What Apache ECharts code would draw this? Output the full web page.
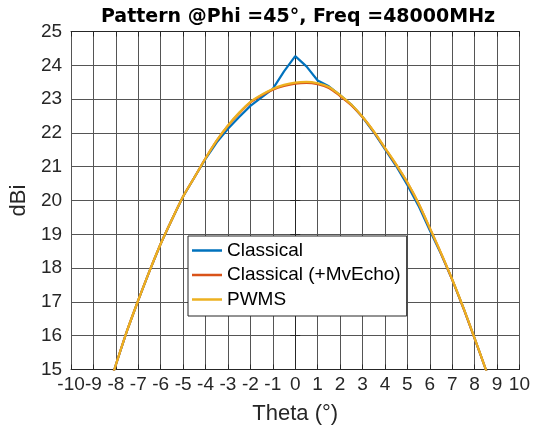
<!DOCTYPE html>
<html>
<head>
<meta charset="utf-8">
<script src="https://cdn.jsdelivr.net/npm/echarts@6/dist/echarts.min.js"></script>
<style>
  html, body { margin: 0; padding: 0; background: #fff; }
  #graph { width: 533px; height: 436px; }
</style>
</head>
<body>
<div id="graph"></div>
<script>
// 数据：theta 采样点 (°)
var theta = [-8.5, -8, -7.5, -7, -6.5, -6, -5.5, -5, -4.5, -4, -3.5, -3, -2.5, -2, -1.5, -1, -0.5, 0,
             0.5, 1, 1.5, 2, 2.5, 3, 3.5, 4, 4.5, 5, 5.5, 6, 6.5, 7, 7.5, 8, 8.5, 9];
// Classical (dBi)
var classical = [14.1, 15.14, 16.15, 17.05, 17.91, 18.72, 19.44, 20.12, 20.68, 21.23, 21.72, 22.12, 22.47, 22.8, 23.05, 23.3, 23.82, 24.27,
                 23.97, 23.55, 23.38, 23.12, 22.84, 22.47, 22.02, 21.52, 21.02, 20.46, 19.84, 19.12, 18.42, 17.66, 16.82, 15.92, 15.0, 14.0];
// Classical (+MvEcho)
var mvEcho = [14.1, 15.14, 16.15, 17.05, 17.91, 18.72, 19.44, 20.12, 20.68, 21.25, 21.77, 22.21, 22.58, 22.9, 23.11, 23.28, 23.39, 23.46,
              23.48, 23.44, 23.33, 23.09, 22.82, 22.47, 22.04, 21.55, 21.06, 20.53, 19.91, 19.18, 18.44, 17.66, 16.82, 15.92, 15.0, 14.0];
// PWMS
var pwms = [14.1, 15.14, 16.15, 17.05, 17.91, 18.72, 19.44, 20.12, 20.68, 21.25, 21.78, 22.22, 22.6, 22.92, 23.13, 23.3, 23.42, 23.49,
            23.51, 23.47, 23.36, 23.12, 22.84, 22.48, 22.05, 21.56, 21.07, 20.54, 19.92, 19.19, 18.45, 17.67, 16.83, 15.93, 15.0, 14.0];

var seriesNames = ['Classical', 'Classical (+MvEcho)', 'PWMS'];
var seriesColors = ['#0072BD', '#D95319', '#EDB120'];
var seriesValues = [classical, mvEcho, pwms];
var seriesSmooth = [false, 0.3, 0.3];

var myChart = echarts.init(document.getElementById('graph'));
var font = 'Liberation Sans, Arial, Helvetica, sans-serif';
var axisColor = '#262626';

function pairs(vals) {
    var out = [];
    for (var i = 0; i < theta.length; i++) {
        out.push([theta[i], vals[i]]);
    }
    return out;
}

var series = [];
for (var k = 0; k < seriesNames.length; k++) {
    series.push({
        name: seriesNames[k],
        type: 'line',
        xAxisIndex: 0,
        yAxisIndex: 0,
        data: pairs(seriesValues[k]),
        symbol: 'none',
        smooth: seriesSmooth[k],
        clip: true,
        lineStyle: { color: seriesColors[k], width: 2.2 },
        itemStyle: { color: seriesColors[k] },
        animation: false
    });
}

var option = {
    backgroundColor: '#fff',
    animation: false,
    title: {
        text: 'Pattern @Phi =45°, Freq =48000MHz',
        left: 293,
        top: 3,
        textAlign: 'center',
        textStyle: { fontFamily: 'DejaVu Sans, sans-serif', fontSize: 19, fontWeight: 'bold', color: '#000' }
    },
    grid: { left: 66, right: 12, top: 31.5, bottom: 66.5 },
    legend: {
        data: seriesNames,
        orient: 'vertical',
        left: 188,
        top: 236,
        icon: 'rect',
        backgroundColor: '#fff',
        borderColor: axisColor,
        borderWidth: 1,
        borderRadius: 0,
        padding: [5, 6, 7, 4],
        itemWidth: 30,
        itemHeight: 2.5,
        itemGap: 5.5,
        textStyle: { fontFamily: font, fontSize: 19, color: '#000' }
    },
    xAxis: [{
        type: 'value', min: -10, max: 10, interval: 1,
        name: 'Theta (°)', nameLocation: 'middle', nameGap: 33,
        nameTextStyle: { fontFamily: font, fontSize: 22, color: axisColor },
        axisLine: { lineStyle: { color: axisColor, width: 1 } },
        axisTick: { inside: true, length: 5, lineStyle: { color: axisColor } },
        axisLabel: { fontFamily: font, fontSize: 19, color: axisColor, margin: 6 },
        splitLine: { show: true, lineStyle: { color: '#555', width: 1 } }
    }, {
        type: 'value', min: -10, max: 10, interval: 1, position: 'top',
        axisLine: { lineStyle: { color: axisColor, width: 1 } },
        axisTick: { inside: true, length: 5, lineStyle: { color: axisColor } },
        axisLabel: { show: false },
        splitLine: { show: false }
    }],
    yAxis: [{
        type: 'value', min: 15, max: 25, interval: 1,
        name: 'dBi', nameLocation: 'middle', nameGap: 31,
        nameTextStyle: { fontFamily: font, fontSize: 22, color: axisColor },
        axisLine: { show: true, lineStyle: { color: axisColor, width: 1 } },
        axisTick: { show: true, inside: true, length: 5, lineStyle: { color: axisColor } },
        axisLabel: { fontFamily: font, fontSize: 19, color: axisColor, margin: 9 },
        splitLine: { show: true, lineStyle: { color: '#555', width: 1 } }
    }, {
        type: 'value', min: 15, max: 25, interval: 1, position: 'right',
        axisLine: { show: true, lineStyle: { color: axisColor, width: 1 } },
        axisTick: { show: true, inside: true, length: 5, lineStyle: { color: axisColor } },
        axisLabel: { show: false },
        splitLine: { show: false }
    }],
    series: series
};

myChart.setOption(option);
</script>
</body>
</html>
